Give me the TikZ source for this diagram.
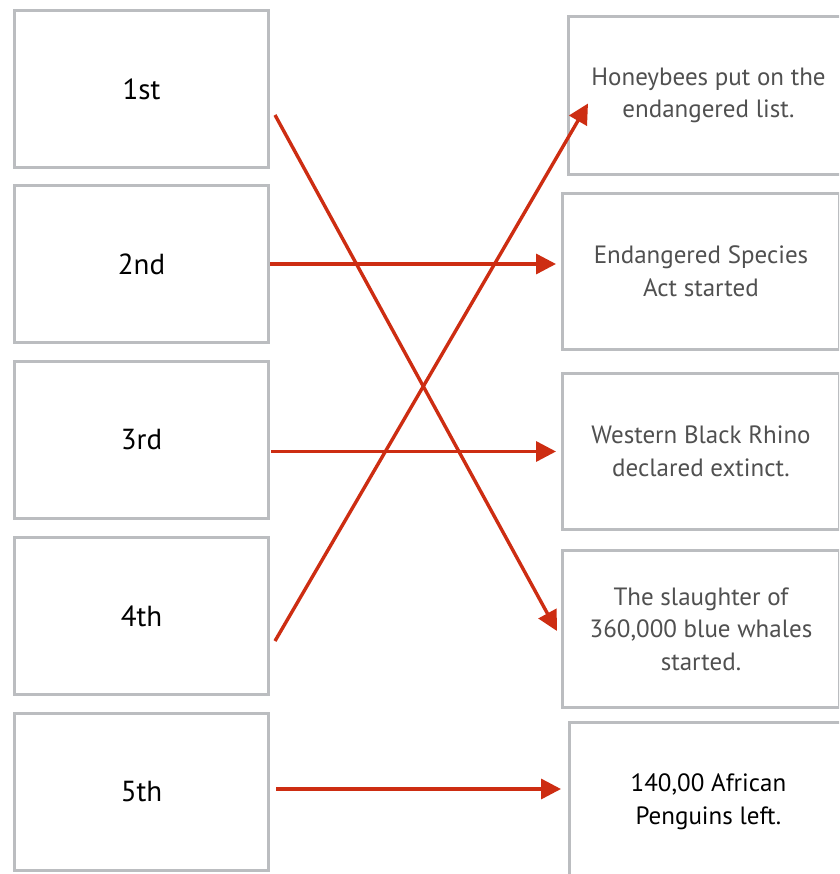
\documentclass[tikz,border=0pt]{standalone}
\usepackage{fontspec}
\setmainfont{PT Sans}
\usetikzlibrary{arrows.meta,calc}
\definecolor{boxgray}{RGB}{187,189,192}
\definecolor{arrred}{RGB}{205,45,18}
\definecolor{txtgray}{RGB}{80,80,80}
\begin{document}
\begin{tikzpicture}[x=1pt,y=-1pt,
  lbox/.style={draw=boxgray, line width=3pt, minimum width=254pt, minimum height=157pt, inner sep=0pt, font=\fontsize{29}{32}\selectfont, text=black, anchor=north west},
  rbox/.style={draw=boxgray, line width=3pt, minimum height=156pt, inner sep=0pt, align=center, font=\fontsize{25}{32.5}\selectfont, text=txtgray, anchor=north west},
  conn/.style={draw=arrred, line width=3.4pt, -{Triangle[length=20pt,width=20pt]}}]
\useasboundingbox (0,0) rectangle (839,874);
\clip (0,0) rectangle (839,874);
\fill[white] (0,0) rectangle (839,874);
% left boxes
\node[lbox] (L1) at (13,9) {1st};
\node[lbox] (L2) at (13,184) {2nd};
\node[lbox] (L3) at (13,360) {3rd};
\node[lbox] (L4) at (13,536) {4th};
\node[lbox] (L5) at (13,712) {5th};
% right boxes
\node[rbox, minimum width=280pt, minimum height=158pt] (R1) at (567,15) {Honeybees put on the\\endangered list.};
\node[rbox, minimum width=277pt] (R2) at (561,192) {Endangered Species\\Act started};
\node[rbox, minimum width=277pt] (R3) at (561,372) {Western Black Rhino\\declared extinct.};
\node[rbox, minimum width=277pt, minimum height=157pt] (R4) at (561,549) {The slaughter of\\360,000 blue whales\\started.};
\node[rbox, minimum width=278pt, minimum height=158pt, text=black] (R5) at (568,721) {140,00 African\\Penguins left.};
% connectors
\draw[conn] ($(L1.east)+(5,26)$) -- ($(R4.west)+(-4,2)$);
\draw[conn] (L2.east) -- ($(L2.east -| R2.west)+(-5,0)$);
\draw[conn] ($(L3.east |- R3.west)+(1,0)$) -- ($(R3.west)+(-5,0)$);
\draw[conn] ($(L4.east)+(5,25)$) -- ($(R1.west)+(21,8)$);
\draw[conn] ($(L5.east)+(6,-3)$) -- ($(L5.east -| R5.west)+(-7,-3)$);
\end{tikzpicture}
\end{document}
